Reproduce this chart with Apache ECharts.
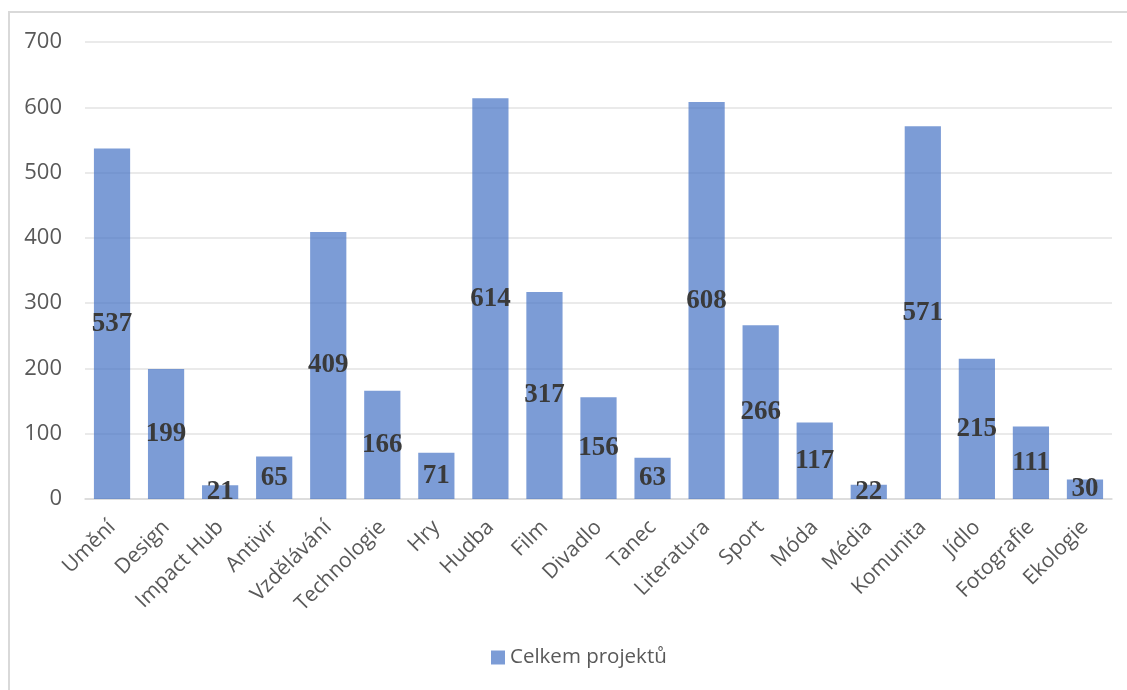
<!DOCTYPE html>
<html>
<head>
<meta charset="utf-8">
<script src="https://cdn.jsdelivr.net/npm/echarts@6/dist/echarts.min.js"></script>
<style>
  html, body { margin: 0; padding: 0; background: #fff; }
  #main { width: 1127px; height: 690px; }
</style>
</head>
<body>
<div id="main"></div>
<script>
const categories = ['Umění', 'Design', 'Impact Hub', 'Antivir', 'Vzdělávání', 'Technologie', 'Hry', 'Hudba', 'Film', 'Divadlo', 'Tanec', 'Literatura', 'Sport', 'Móda', 'Média', 'Komunita', 'Jídlo', 'Fotografie', 'Ekologie'];
const projects = [537, 199, 21, 65, 409, 166, 71, 614, 317, 156, 63, 608, 266, 117, 22, 571, 215, 111, 30];
const yTicks = { min: 0, max: 700, interval: 100 };

// inicializace grafu
let myChart = echarts.init(document.getElementById('main'));
myChart.setOption({
  animation: false,
  graphic: [{
    type: 'rect',
    shape: { x: 9, y: 12, width: 1200, height: 800 },
    style: { fill: 'none', stroke: '#d9d9d9', lineWidth: 2 },
    silent: true
  }],
  grid: { left: 85, right: 15, top: 42, bottom: 191 },
  legend: {
    bottom: 17,
    left: 486,
    icon: 'rect',
    itemWidth: 14,
    itemHeight: 14,
    itemGap: 5,
    textStyle: { fontFamily: 'Open Sans', fontSize: 20.5, color: '#595959' },
    data: ['Celkem projektů']
  },
  xAxis: {
    type: 'category',
    data: categories,
    axisLine: { lineStyle: { color: '#d9d9d9', width: 1.5 } },
    axisTick: { show: false },
    axisLabel: {
      rotate: 45,
      interval: 0,
      margin: 25,
      fontFamily: 'Open Sans',
      fontSize: 21,
      color: '#595959'
    }
  },
  yAxis: {
    type: 'value',
    min: yTicks.min,
    max: yTicks.max,
    interval: yTicks.interval,
    axisLine: { show: false },
    axisTick: { show: false },
    splitLine: { lineStyle: { color: '#e3e3e3', width: 1.5 } },
    axisLabel: {
      margin: 23,
      fontFamily: 'Open Sans',
      fontSize: 22,
      color: '#595959'
    }
  },
  series: [{
    name: 'Celkem projektů',
    type: 'bar',
    data: projects,
    barCategoryGap: '33%',
    itemStyle: { color: 'rgba(68,114,196,0.7)' },
    label: {
      show: true,
      position: 'inside',
      fontFamily: 'Liberation Serif',
      fontWeight: 'bold',
      fontSize: 27,
      color: '#3a3a3a'
    }
  }]
});
</script>
</body>
</html>
